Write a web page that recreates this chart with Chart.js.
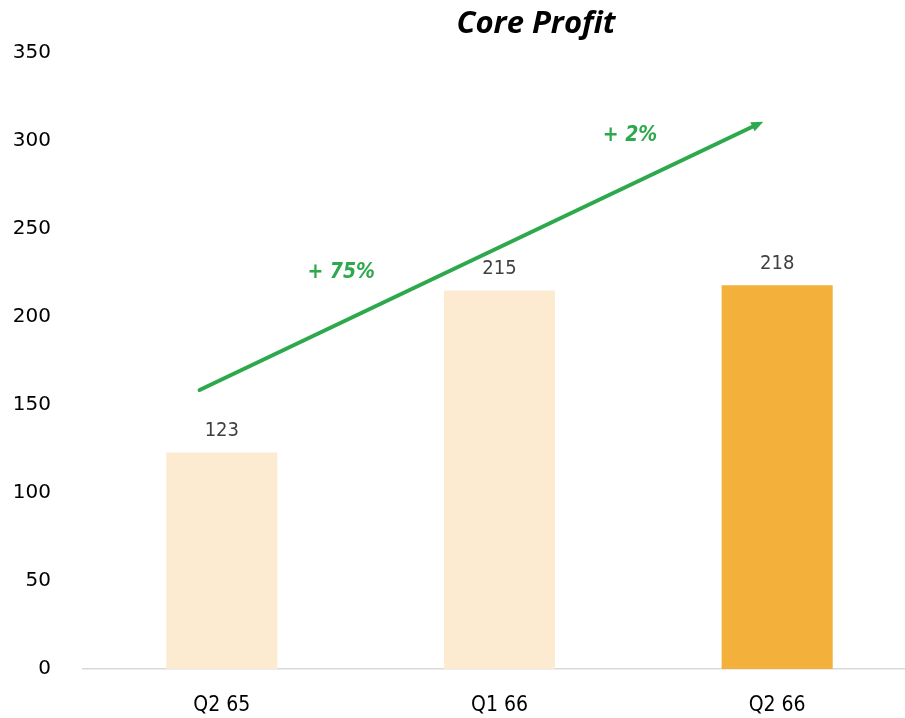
<!DOCTYPE html>
<html>
<head>
<meta charset="utf-8">
<title>Core Profit</title>
<script src="https://cdn.jsdelivr.net/npm/chart.js@4.4.1/dist/chart.umd.min.js"></script>
<style>
  html, body { margin: 0; padding: 0; background: #fff; overflow: hidden; }
  #wrap { position: relative; width: 916px; height: 718px; }
</style>
</head>
<body>
<div id="wrap"><canvas id="myChart"></canvas></div>
<script>
// chart data
const categories = ['Q2 65', 'Q1 66', 'Q2 66'];
const coreProfit = [123, 215, 218];
const barColors = ['#FDEBD1', '#FDEBD1', '#F3B03A'];
const yTicks = [0, 50, 100, 150, 200, 250, 300, 350];

// growth arrow, in data units (x = category index, y = value)
const arrowFrom = [-0.08, 158.5];
const arrowTo = [1.95, 311];
const growthLabels = ['+ 75%', '+ 2%'];
const growthLabelPos = [[0.43, 225], [1.47, 303]];

const narrow = '"Liberation Sans Narrow", "DejaVu Sans Condensed", Arial, sans-serif';
const green = '#2EA84D';

// title, value labels and arrow
const extras = {
    id: 'extras',
    afterDatasetsDraw(chart) {
        const ctx = chart.ctx;
        const xs = chart.scales.x;
        const ys = chart.scales.y;

        // value labels above bars
        ctx.save();
        ctx.font = '20px ' + narrow;
        ctx.fillStyle = '#404040';
        ctx.textAlign = 'center';
        ctx.textBaseline = 'middle';
        chart.getDatasetMeta(0).data.forEach((bar, i) => {
            ctx.fillText(String(coreProfit[i]), bar.x, bar.y - 22);
        });

        // arrow
        const x1 = xs.getPixelForValue(arrowFrom[0]);
        const y1 = ys.getPixelForValue(arrowFrom[1]);
        const x2 = xs.getPixelForValue(arrowTo[0]);
        const y2 = ys.getPixelForValue(arrowTo[1]);
        const ang = Math.atan2(y2 - y1, x2 - x1);
        const head = 13;
        ctx.strokeStyle = green;
        ctx.fillStyle = green;
        ctx.lineWidth = 4;
        ctx.lineCap = 'round';
        ctx.beginPath();
        ctx.moveTo(x1, y1);
        ctx.lineTo(x2 - Math.cos(ang) * head * 0.7, y2 - Math.sin(ang) * head * 0.7);
        ctx.stroke();
        ctx.beginPath();
        ctx.moveTo(x2, y2);
        ctx.lineTo(x2 - head * Math.cos(ang - 0.4), y2 - head * Math.sin(ang - 0.4));
        ctx.lineTo(x2 - head * Math.cos(ang + 0.4), y2 - head * Math.sin(ang + 0.4));
        ctx.closePath();
        ctx.fill();

        // growth labels
        ctx.font = 'italic bold 21px ' + narrow;
        growthLabels.forEach((t, i) => {
            const p = growthLabelPos[i];
            ctx.fillText(t, xs.getPixelForValue(p[0]), ys.getPixelForValue(p[1]));
        });

        // title
        ctx.font = 'italic bold 31px "Open Sans", "Noto Sans", sans-serif';
        ctx.fillStyle = '#000';
        ctx.fillText('Core Profit', 536, 24);
        ctx.restore();
    }
};

const ctx = document.getElementById('myChart').getContext('2d');
const myChart = new Chart(ctx, {
    type: 'bar',
    data: {
        labels: categories,
        datasets: [{
            label: 'Core Profit',
            data: coreProfit,
            backgroundColor: barColors,
            borderWidth: 0,
            barPercentage: 0.8,
            categoryPercentage: 0.5
        }]
    },
    options: {
        responsive: true,
        maintainAspectRatio: false,
        animation: false,
        layout: { padding: { top: 53, left: 0, right: 0, bottom: 0 } },
        plugins: {
            legend: { display: false },
            title: { display: false },
            tooltip: { enabled: false }
        },
        scales: {
            x: {
                grid: { display: false, drawTicks: false },
                border: { display: true, color: '#D9D9D9', width: 1.5 },
                ticks: {
                    color: '#000',
                    font: { family: narrow, size: 21 },
                    padding: 24
                },
                afterFit(scale) { scale.height = 49; }
            },
            y: {
                min: 0,
                max: 350,
                grid: { display: false, drawTicks: false },
                border: { display: false },
                afterBuildTicks(scale) {
                    scale.ticks = yTicks.map(v => ({ value: v }));
                },
                ticks: {
                    color: '#000',
                    font: { family: '"DejaVu Sans", "Noto Sans", sans-serif', size: 20 },
                    padding: 32
                },
                afterFit(scale) { scale.width = 83; }
            }
        }
    },
    plugins: [extras]
});
</script>
</body>
</html>
